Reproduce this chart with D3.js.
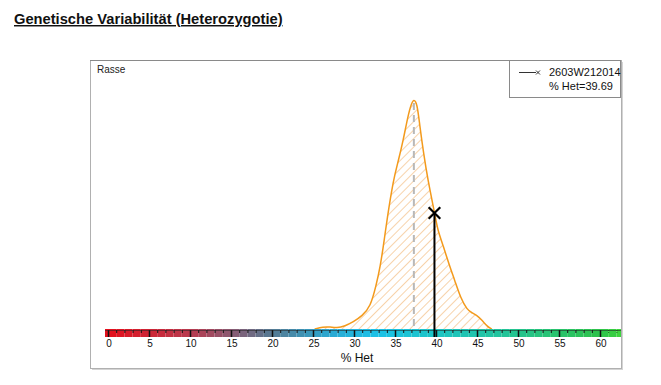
<!DOCTYPE html>
<html>
<head>
<meta charset="utf-8">
<script src="https://cdn.jsdelivr.net/npm/d3@7"></script>
<style>
  body { margin: 0; background: #fff; font-family: "Liberation Sans", Arial, sans-serif; }
</style>
</head>
<body>
<div id="chart"></div>
<script>
// page size
const width = 661;
const height = 385;

// density of % Het for the breed (relative, peak = 1)
const hetValues = [25.2, 26.2, 27.1, 27.9, 28.9, 29.9, 31.0, 32.0, 32.7, 33.2, 33.7, 34.0, 34.8, 35.4, 36.0, 36.6, 37.0, 37.3,
                   37.7, 38.0, 38.5, 39.0, 39.8, 40.2, 40.9, 41.6, 42.3, 43.0, 43.8, 44.4, 44.9, 45.6, 46.3, 46.8];
const densityValues = [0, 0.009, 0.009, 0.004, 0.013, 0.03, 0.057, 0.096, 0.19, 0.27, 0.39, 0.47, 0.65, 0.73, 0.82, 0.93, 0.98, 1.0,
                       0.98, 0.89, 0.76, 0.65, 0.51, 0.43, 0.36, 0.28, 0.21, 0.135, 0.083, 0.07, 0.061, 0.039, 0.009, 0];

const peakHet = 37.3;
const animalId = "2603W212014";
const animalHet = 39.69;

const tickValues = [0, 5, 10, 15, 20, 25, 30, 35, 40, 45, 50, 55, 60];
const colorStops = [0, 10, 15, 20, 27, 33, 40, 47, 60, 62.5];
const colorList = ["#e3101c", "#b83a4e", "#8a5a72", "#567a92", "#2aa8d2", "#1cc2e8", "#1cc4c4", "#22c4a2", "#2ec24a", "#3ed43e"];

// panel placement
const panel = {left: 90, top: 60, right: 621, bottom: 368};
const baseY = 329;
const barH = 8;

const svg = d3.select("#chart")
  .append("svg")
  .attr("width", width)
  .attr("height", height);

// title
svg.append("text")
  .attr("x", 14).attr("y", 24)
  .attr("font-size", "14.7px")
  .attr("font-weight", "bold")
  .attr("text-decoration", "underline")
  .attr("fill", "#111")
  .text("Genetische Variabilität (Heterozygotie)");

// panel box with shadow
svg.append("rect")
  .attr("x", panel.left + 2).attr("y", panel.top + 2)
  .attr("width", panel.right - panel.left).attr("height", panel.bottom - panel.top)
  .attr("fill", "#d4d4d4");
svg.append("rect")
  .attr("x", panel.left + 0.5).attr("y", panel.top + 0.5)
  .attr("width", panel.right - panel.left).attr("height", panel.bottom - panel.top)
  .attr("fill", "#fff")
  .attr("stroke", "#b0b0b0");
svg.append("line")
  .attr("x1", panel.left).attr("x2", 509)
  .attr("y1", panel.top + 0.5).attr("y2", panel.top + 0.5)
  .attr("stroke", "#8a8a8a");

svg.append("text")
  .attr("x", 97).attr("y", 73)
  .attr("font-size", "10px")
  .attr("fill", "#222")
  .text("Rasse");

// scales
const x = d3.scaleLinear().domain([0, 60]).range([108, 600]);
const y = d3.scaleLinear().domain([0, 1]).range([baseY, 99]);
const color = d3.scaleLinear().domain(colorStops).range(colorList);

// hatch pattern
const defs = svg.append("defs");
defs.append("pattern")
  .attr("id", "hatch")
  .attr("patternUnits", "userSpaceOnUse")
  .attr("width", 6).attr("height", 6)
  .attr("patternTransform", "rotate(45)")
  .append("line")
    .attr("x1", 0).attr("y1", 0).attr("x2", 0).attr("y2", 6)
    .attr("stroke", "#f5c896")
    .attr("stroke-width", 1.6);

const dens = hetValues.map((v, i) => ({het: v, d: densityValues[i]}));

const area = d3.area()
  .x(d => x(d.het))
  .y0(baseY)
  .y1(d => y(d.d))
  .curve(d3.curveBasis);

const line = d3.line()
  .x(d => x(d.het))
  .y(d => y(d.d))
  .curve(d3.curveBasis);

svg.append("path")
  .datum(dens)
  .attr("d", area)
  .attr("fill", "url(#hatch)");

// peak dashed line
svg.append("line")
  .attr("x1", x(peakHet)).attr("x2", x(peakHet))
  .attr("y1", y(1) + 4).attr("y2", baseY)
  .attr("stroke", "#b8b8b8")
  .attr("stroke-width", 2)
  .attr("stroke-dasharray", "7,5");

svg.append("path")
  .datum(dens)
  .attr("d", line)
  .attr("fill", "none")
  .attr("stroke", "#f39a1c")
  .attr("stroke-width", 1.5);

// colour bar, one cell per %
const cells = d3.range(-1, 63);
svg.append("g").selectAll("rect")
  .data(cells)
  .enter()
  .append("rect")
    .attr("x", d => Math.max(x(d), 105))
    .attr("y", baseY)
    .attr("width", d => Math.min(x(d + 1), 621) - Math.max(x(d), 105))
    .attr("height", barH)
    .attr("fill", d => color(Math.max(0, d + 0.5)));

// ticks on the colour bar
const minorTicks = d3.range(0, 63);
svg.append("g").selectAll("line")
  .data(minorTicks)
  .enter()
  .append("line")
    .attr("x1", d => x(d) + 0.5).attr("x2", d => x(d) + 0.5)
    .attr("y1", baseY + 1)
    .attr("y2", d => d % 5 === 0 ? baseY + barH : baseY + 4)
    .attr("stroke", d => d > 60 ? "#1a6a1a" : "#111")
    .attr("stroke-width", d => d % 5 === 0 ? 1.5 : 1)
    .attr("stroke-dasharray", d => d > 60 ? "1,1" : null);

svg.append("line")
  .attr("x1", 105).attr("x2", 621)
  .attr("y1", baseY + 1.5).attr("y2", baseY + 1.5)
  .attr("stroke", "#222")
  .attr("stroke-opacity", 0.55);

// tick labels
svg.append("g").selectAll("text")
  .data(tickValues)
  .enter()
  .append("text")
    .attr("x", d => x(d) + 1)
    .attr("y", 347)
    .attr("text-anchor", "middle")
    .attr("font-size", "10px")
    .attr("fill", "#111")
    .text(d => d);

svg.append("text")
  .attr("x", 357).attr("y", 362)
  .attr("text-anchor", "middle")
  .attr("font-size", "12px")
  .attr("fill", "#111")
  .text("% Het");

// animal marker
const animalY = 213;
svg.append("line")
  .attr("x1", x(animalHet) + 1).attr("x2", x(animalHet) + 1)
  .attr("y1", animalY).attr("y2", baseY + barH)
  .attr("stroke", "#000")
  .attr("stroke-width", 2);

svg.append("path")
  .attr("d", d3.symbol().type(d3.symbolX).size(90)())
  .attr("transform", `translate(${x(animalHet) + 1},${animalY})`)
  .attr("stroke", "#000")
  .attr("stroke-width", 2.2)
  .attr("fill", "none");

// legend
const legend = svg.append("g");
legend.append("rect")
  .attr("x", 509.5).attr("y", 60.5)
  .attr("width", 111).attr("height", 37)
  .attr("fill", "#fff")
  .attr("stroke", "#8a8a8a");
legend.append("line")
  .attr("x1", 519).attr("x2", 536)
  .attr("y1", 72.5).attr("y2", 72.5)
  .attr("stroke", "#333");
legend.append("path")
  .attr("d", d3.symbol().type(d3.symbolX).size(12)())
  .attr("transform", "translate(538,72.5)")
  .attr("stroke", "#333")
  .attr("fill", "none");
legend.append("text")
  .attr("x", 549).attr("y", 76)
  .attr("font-size", "11px")
  .attr("fill", "#111")
  .text(animalId);
legend.append("text")
  .attr("x", 549).attr("y", 90)
  .attr("font-size", "11px")
  .attr("fill", "#111")
  .text("% Het=" + animalHet);
</script>
</body>
</html>
